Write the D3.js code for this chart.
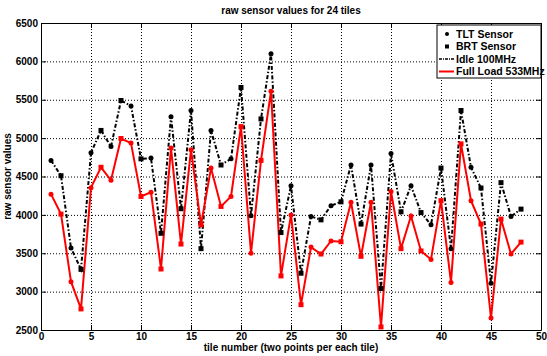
<!DOCTYPE html>
<html>
<head>
<meta charset="utf-8">
<script src="https://cdn.jsdelivr.net/npm/d3@7"></script>
<style>
  body { margin: 0; background: #fff; }
  text { font-family: "Liberation Sans", Arial, sans-serif; font-weight: bold; }
</style>
</head>
<body>
<div id="chart"></div>
<script>
const tiles = d3.range(1, 49)
const idle = [4710, 4510, 3570, 3290, 4810, 5100, 4890, 5490, 5420, 4730, 4740, 3760,
  5280, 4080, 5360, 3560, 5100, 4650, 4730, 5660, 3990, 5250, 6100, 3770,
  4380, 3240, 3980, 3935, 4120, 4170, 4650, 3880, 4650, 3040, 4800, 4040,
  4380, 4030, 3870, 4610, 3560, 5360, 4620, 4350, 3110, 4420, 3980, 4075]
const fullLoad = [4270, 4010, 3130, 2775, 4355, 4620, 4450, 4995, 4935, 4240, 4295, 3295,
  4870, 3620, 4850, 3870, 4610, 4110, 4240, 5150, 3500, 4710, 5610, 3205,
  4000, 2830, 3580, 3490, 3660, 3650, 4165, 3460, 4165, 2540, 4305, 3560,
  3985, 3530, 3420, 4185, 3120, 4925, 4185, 3880, 2655, 3945, 3490, 3645]
const xTicks = [0, 5, 10, 15, 20, 25, 30, 35, 40, 45, 50]
const yTicks = [2500, 3000, 3500, 4000, 4500, 5000, 5500, 6000, 6500]
const legendItems = ['TLT Sensor', 'BRT Sensor', 'Idle 100MHz', 'Full Load 533MHz']

const width = 547
const height = 356
const margin = { top: 23, right: 6, bottom: 26, left: 41 }
const w = width - margin.left - margin.right
const h = height - margin.top - margin.bottom

const svg = d3.select('#chart').append('svg')
  .attr('width', width)
  .attr('height', height)

const x = d3.scaleLinear().domain([0, 50]).range([0, w])
const y = d3.scaleLinear().domain([2500, 6500]).range([h, 0])

const g = svg.append('g').attr('transform', `translate(${margin.left},${margin.top})`)

// grid
g.append('g')
  .attr('transform', `translate(0,${h})`)
  .call(d3.axisBottom(x).tickValues(xTicks).tickSize(-h).tickFormat(''))
  .call(a => a.select('.domain').remove())
  .selectAll('line').attr('stroke', '#777').attr('stroke-dasharray', '1,2')
g.append('g')
  .call(d3.axisLeft(y).tickValues(yTicks).tickSize(-w).tickFormat(''))
  .call(a => a.select('.domain').remove())
  .selectAll('line').attr('stroke', '#777').attr('stroke-dasharray', '1,2')

// axes with inward ticks
const xAxis = g.append('g')
  .attr('transform', `translate(0,${h})`)
  .call(d3.axisBottom(x).tickValues(xTicks).tickSizeInner(-5).tickSizeOuter(0).tickPadding(4))
const yAxis = g.append('g')
  .call(d3.axisLeft(y).tickValues(yTicks).tickFormat(d3.format('d')).tickSizeInner(-5).tickSizeOuter(0).tickPadding(3))
g.append('g')
  .call(d3.axisTop(x).tickValues(xTicks).tickSizeInner(-5).tickSizeOuter(0).tickFormat(''))
g.append('g')
  .attr('transform', `translate(${w},0)`)
  .call(d3.axisRight(y).tickValues(yTicks).tickSizeInner(-5).tickSizeOuter(0).tickFormat(''))

svg.selectAll('.tick text').attr('font-size', 10).attr('fill', '#000')
svg.selectAll('.domain, .tick line').attr('stroke', '#000')
xAxis.selectAll('.tick text').attr('dy', '0.6em')

// lines
const line = d3.line().x((d, i) => x(tiles[i])).y(d => y(d))

g.append('path').datum(idle)
  .attr('d', line)
  .attr('fill', 'none')
  .attr('stroke', '#000')
  .attr('stroke-width', 2)
  .attr('stroke-dasharray', '4,2,1.5,2')

g.append('path').datum(fullLoad)
  .attr('d', line)
  .attr('fill', 'none')
  .attr('stroke', '#f00')
  .attr('stroke-width', 2)

function markers(values, color) {
  // odd index points: TLT (dot), even: BRT (square)
  g.selectAll(null).data(values.filter((d, i) => i % 2 === 0))
    .enter().append('circle')
    .attr('cx', (d, i) => x(tiles[i * 2]))
    .attr('cy', d => y(d))
    .attr('r', 2.5)
    .attr('fill', color)
  g.selectAll(null).data(values.filter((d, i) => i % 2 === 1))
    .enter().append('rect')
    .attr('x', (d, i) => x(tiles[i * 2 + 1]) - 2.5)
    .attr('y', d => y(d) - 2.5)
    .attr('width', 5)
    .attr('height', 5)
    .attr('fill', color)
}
markers(idle, '#000')
markers(fullLoad, '#f00')

// titles
svg.append('text')
  .attr('x', margin.left + w / 2)
  .attr('y', 14)
  .attr('text-anchor', 'middle')
  .attr('font-size', 10)
  .text('raw sensor values for 24 tiles')

svg.append('text')
  .attr('x', margin.left + w / 2)
  .attr('y', 351)
  .attr('text-anchor', 'middle')
  .attr('font-size', 10)
  .text('tile number (two points per each tile)')

svg.append('text')
  .attr('transform', `translate(11,${margin.top + h / 2}) rotate(-90)`)
  .attr('text-anchor', 'middle')
  .attr('font-size', 10)
  .text('raw sensor values')

// legend
const lg = svg.append('g').attr('transform', `translate(437,25)`)
lg.append('rect')
  .attr('width', 104).attr('height', 53)
  .attr('fill', '#fff').attr('stroke', '#000').attr('stroke-width', 1)

legendItems.forEach((name, i) => {
  const yy = 9 + i * 12.5
  const row = lg.append('g').attr('transform', `translate(0,${yy})`)
  if (i === 0) row.append('circle').attr('cx', 10).attr('cy', 0).attr('r', 2).attr('fill', '#000')
  if (i === 1) row.append('rect').attr('x', 8).attr('y', -2).attr('width', 4).attr('height', 4).attr('fill', '#000')
  if (i === 2) row.append('line').attr('x1', 2).attr('x2', 17).attr('stroke', '#000').attr('stroke-width', 1.5).attr('stroke-dasharray', '3,1,1,1')
  if (i === 3) row.append('line').attr('x1', 2).attr('x2', 17).attr('stroke', '#f00').attr('stroke-width', 2)
  row.append('text')
    .attr('x', 19)
    .attr('dy', '0.35em')
    .attr('font-size', 10.5)
    .text(name)
})
</script>
</body>
</html>
